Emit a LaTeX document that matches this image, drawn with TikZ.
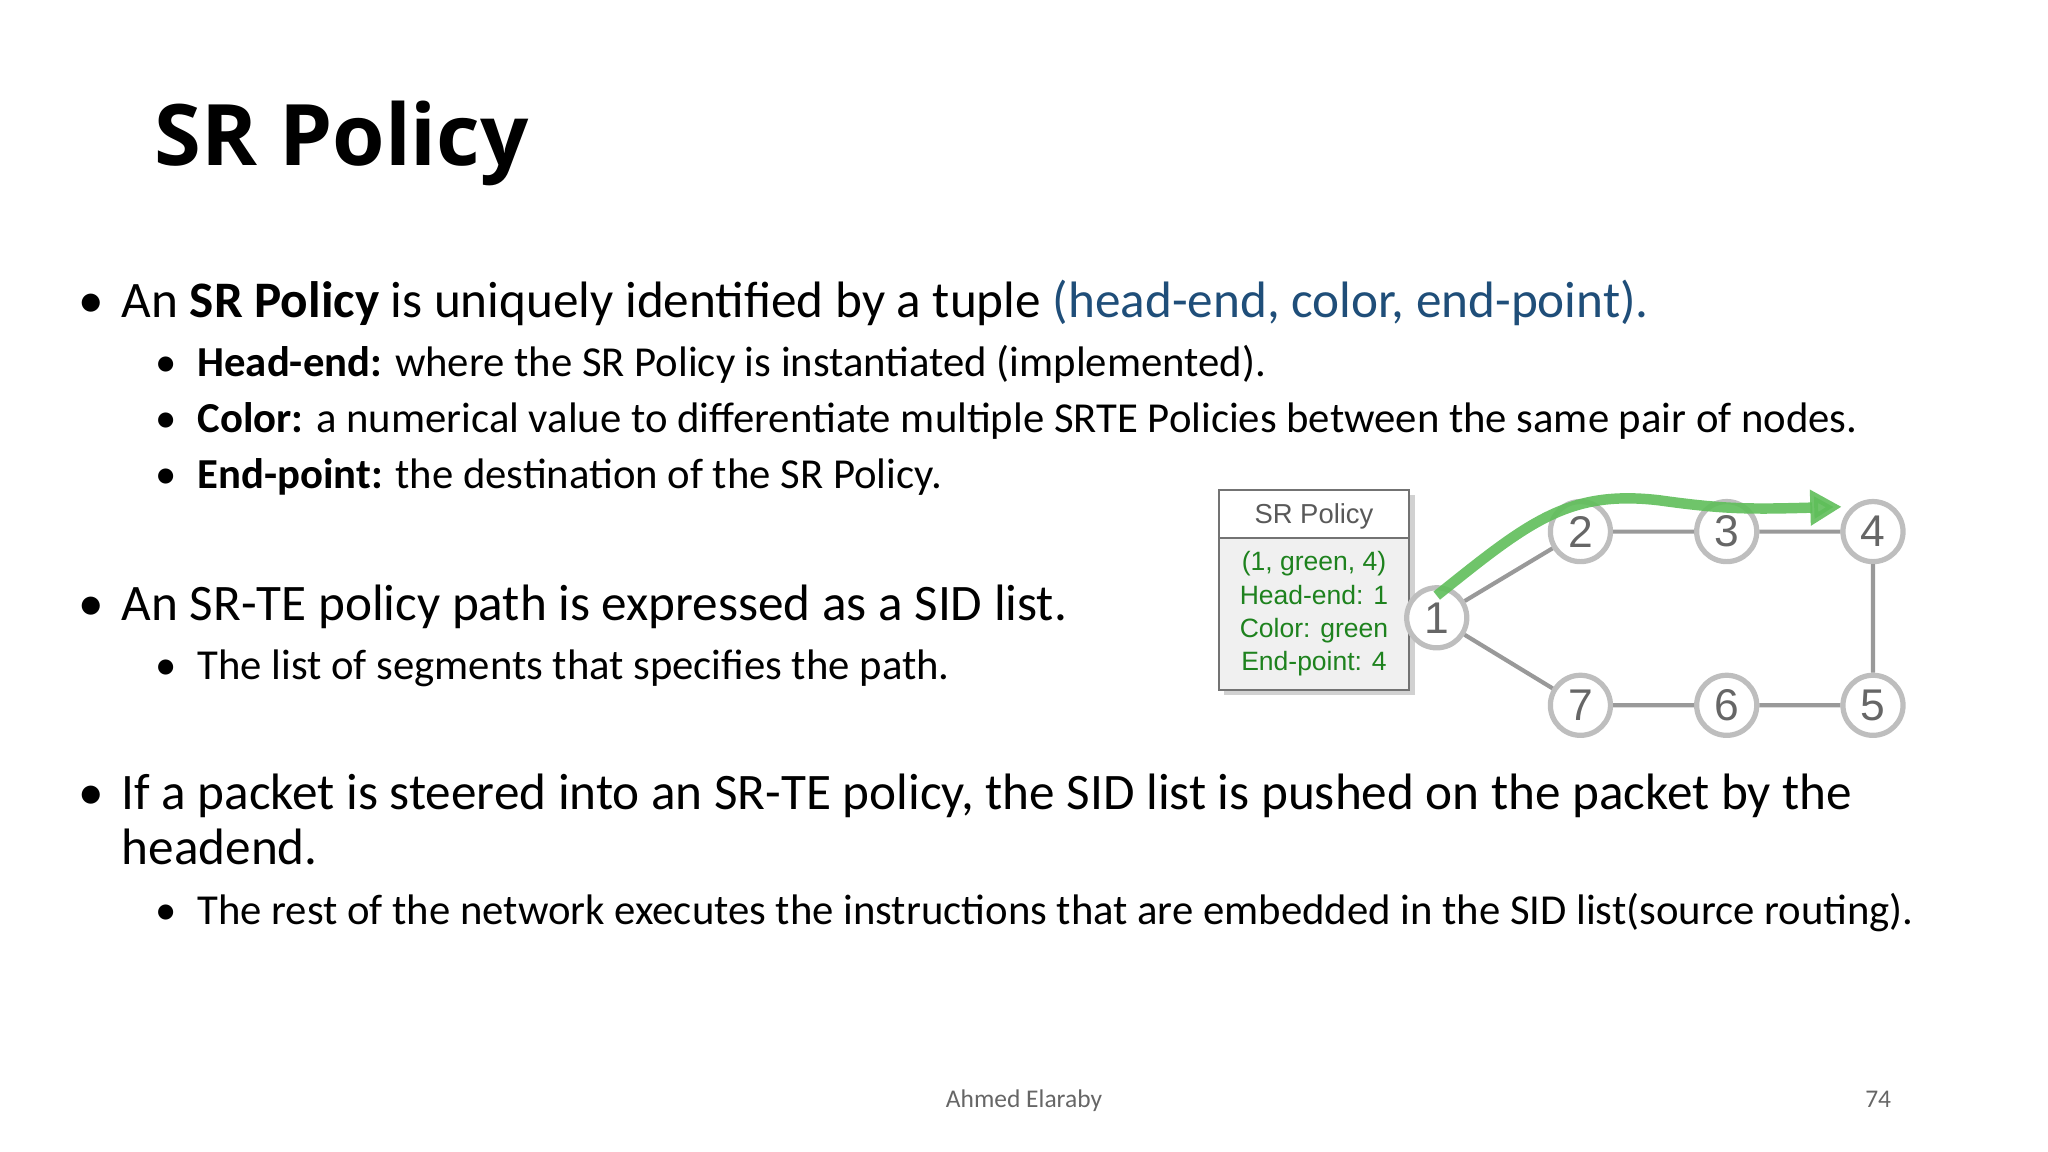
\documentclass[tikz,border=0pt]{standalone}
\usepackage{fontspec}
\setmainfont{Carlito}
\newfontfamily\titlefont{Open Sans}
\newfontfamily\diafont{Liberation Sans}
\usetikzlibrary{arrows.meta}
\definecolor{tblue}{RGB}{31,78,121}
\definecolor{pgreen}{RGB}{30,130,30}
\definecolor{ngray}{RGB}{190,190,190}
\definecolor{agreen}{RGB}{95,190,90}
\begin{document}
\begin{tikzpicture}[x=1pt,y=-1pt,
  txt/.style={anchor=base west,inner sep=0pt,font=\fontsize{39.2}{44}\selectfont},
  sub/.style={anchor=base west,inner sep=0pt,font=\fontsize{32.7}{38}\selectfont},
  dot/.style={anchor=base,inner sep=0pt},
  nd/.style={circle,draw=ngray,line width=4pt,fill=white,minimum size=46pt,inner sep=0pt,font=\diafont\fontsize{34}{34}\selectfont,text=black!60},
  ln/.style={draw=black!40,line width=3.2pt}]
\useasboundingbox (0,0) rectangle (1568,882);
\node[anchor=base west,inner sep=0pt,font=\titlefont\bfseries\fontsize{65}{70}\selectfont] (title) at (118,127) {SR Policy};
\node[dot,font=\fontsize{39.2}{44}\selectfont] (b1) at (70,243) {•};
\node[txt] (t1) at (93,243) {An \textbf{SR Policy} is uniquely identified by a tuple \textcolor{tblue}{(head-end, color, end-point).}};
\node[dot,font=\fontsize{32.7}{38}\selectfont] (b11) at (127,288) {•};
\node[sub] (t11) at (151,288) {\textbf{Head-end:} where the SR Policy is instantiated (implemented).};
\node[dot,font=\fontsize{32.7}{38}\selectfont] (b12) at (127,331) {•};
\node[sub] (t12) at (151,331) {\textbf{Color:} a numerical value to differentiate multiple SRTE Policies between the same pair of nodes.};
\node[dot,font=\fontsize{32.7}{38}\selectfont] (b13) at (127,374) {•};
\node[sub] (t13) at (151,374) {\textbf{End-point:} the destination of the SR Policy.};
\node[dot,font=\fontsize{39.2}{44}\selectfont] (b2) at (70,475) {•};
\node[txt] (t2) at (93,475) {An SR-TE policy path is expressed as a SID list.};
\node[dot,font=\fontsize{32.7}{38}\selectfont] (b21) at (127,520) {•};
\node[sub] (t21) at (151,520) {The list of segments that specifies the path.};
\node[dot,font=\fontsize{39.2}{44}\selectfont] (b3) at (70,620) {•};
\node[txt] (t3) at (93,620) {If a packet is steered into an SR-TE policy, the SID list is pushed on the packet by the};
\node[txt] (t3b) at (93,662) {headend.};
\node[dot,font=\fontsize{32.7}{38}\selectfont] (b31) at (127,708) {•};
\node[sub] (t31) at (151,708) {The rest of the network executes the instructions that are embedded in the SID list(source routing).};
\node[anchor=base,inner sep=0pt,font=\fontsize{19.5}{22}\selectfont,text=black!60] (ft) at (784,848) {Ahmed Elaraby};
\node[anchor=base,inner sep=0pt,font=\fontsize{19.5}{22}\selectfont,text=black!60] (pg) at (1438,848) {74};
% policy box
\fill[black!30,opacity=.6] (937,379) rectangle (1083,532);
\draw[draw=black!55,line width=1.5pt,fill=black!6] (933,375) rectangle (1079,528);
\draw[draw=black!55,line width=1.5pt,fill=white] (933,375) rectangle (1079,412);
\node[font=\diafont\fontsize{21}{21}\selectfont,text=black!65] (ph) at (1006,395) {SR Policy};
\node[font=\diafont\fontsize{20.3}{25.5}\selectfont,text=pgreen,align=center] (pb) at (1006,470) {(1, green, 4)\\Head-end: 1\\Color: green\\End-point: 4};
% network
\node[nd] (n1) at (1100,473) {1};
\node[nd] (n2) at (1210,407) {2};
\node[nd] (n3) at (1322,407) {3};
\node[nd] (n4) at (1434,407) {4};
\node[nd] (n7) at (1210,540) {7};
\node[nd] (n6) at (1322,540) {6};
\node[nd] (n5) at (1434,540) {5};
\path[ln] (n1) -- (n2) (n2) -- (n3) (n3) -- (n4) (n4) -- (n5) (n5) -- (n6) (n6) -- (n7) (n7) -- (n1);
\coordinate (gs) at (1100,456);
\coordinate (ge) at (1410,388);
\draw[agreen,opacity=.9,line width=8pt,-{Triangle[length=24pt,width=26pt]}] (gs) .. controls (1170,400) and (1200,375) .. (1270,383) .. controls (1320,390) and (1340,390) .. (ge);
\end{tikzpicture}
\end{document}
